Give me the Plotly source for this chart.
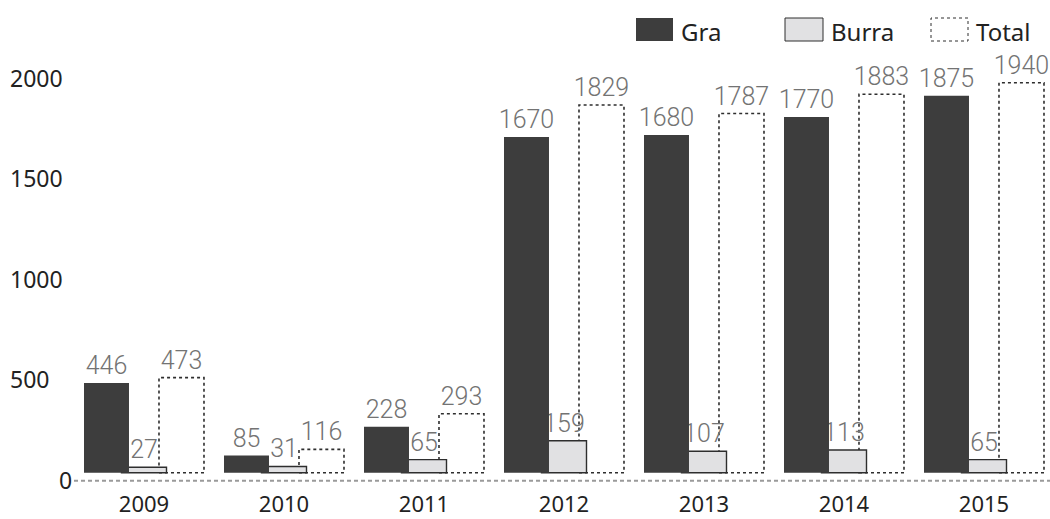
import plotly.graph_objects as go

# Yearly counts
years = ["2009", "2010", "2011", "2012", "2013", "2014", "2015"]
gra = [446, 85, 228, 1670, 1680, 1770, 1875]
burra = [27, 31, 65, 159, 107, 113, 65]
total = [473, 116, 293, 1829, 1787, 1883, 1940]
y_ticks = [0, 500, 1000, 1500, 2000]

# Page geometry (pixels)
W, H = 1050, 519
ML, MR, MT, MB = 74, 0, 40, 30
PW, PH = W - ML - MR, H - MT - MB
PX_PER_UNIT = 0.201          # vertical pixels per count
ZERO_PX = 472.7              # page y of the value 0
Y_MIN = -(H - MB - ZERO_PX) / PX_PER_UNIT
Y_MAX = Y_MIN + PH / PX_PER_UNIT
X_MAX = -0.5 + PW / 140.0

BAR_W = 0.3214
OFF_GRA, OFF_BURRA, OFF_TOTAL = -0.4286, -0.1607, 0.1071
AXIS_FONT = dict(family="Noto Sans", size=23, color="#222222")
XTICK_FONT = dict(family="Noto Sans", size=22, color="#222222")
VALUE_FONT = dict(family="Roboto", size=25, color="#737373", weight=300)

DARK = "#3d3d3d"
LIGHT = "#e1e1e3"
EDGE = "#2e2e2e"


def px_x(px):
    return (px - ML) / PW


def px_y(py):
    return (H - MB - py) / PH


fig = go.Figure()

# drawn back to front: Total, Burra, Gra
fig.add_trace(go.Bar(
    x=years, y=total, name="Total", width=BAR_W, offset=OFF_TOTAL,
    marker=dict(color="rgba(255,255,255,0)", line=dict(width=0)),
    text=[str(v) for v in total], textposition="outside",
    outsidetextfont=VALUE_FONT, constraintext="none", cliponaxis=False,
))
fig.add_trace(go.Bar(
    x=years, y=burra, name="Burra", width=BAR_W, offset=OFF_BURRA,
    marker=dict(color=LIGHT, line=dict(color=EDGE, width=1.4)),
    text=[str(v) for v in burra], textposition="outside",
    outsidetextfont=VALUE_FONT, constraintext="none", cliponaxis=False,
))
fig.add_trace(go.Bar(
    x=years, y=gra, name="Gra", width=BAR_W, offset=OFF_GRA,
    marker=dict(color=DARK, line=dict(width=0)),
    text=[str(v) for v in gra], textposition="outside",
    outsidetextfont=VALUE_FONT, constraintext="none", cliponaxis=False,
))

shapes = []
annotations = []

# dashed outlines of the Total bars (bar outlines cannot be dashed), under the other bars
for i, v in enumerate(total):
    shapes.append(dict(type="rect", xref="x", yref="y", layer="below",
                       x0=i + OFF_TOTAL, x1=i + OFF_TOTAL + BAR_W, y0=0, y1=v,
                       fillcolor="rgba(0,0,0,0)",
                       line=dict(color=EDGE, width=1.6, dash="3px,3px")))

# dotted base line
shapes.append(dict(type="line", xref="paper", yref="y", x0=0, x1=1,
                   y0=-40, y1=-40, line=dict(color="#9a9a9a", width=2, dash="4px,3px"),
                   layer="below"))

# value-axis labels
for v in y_ticks:
    if v == 0:
        annotations.append(dict(xref="paper", yref="y", x=px_x(65), y=v, yshift=-7,
                                text=str(v), showarrow=False, xanchor="center",
                                yanchor="middle", font=AXIS_FONT))
    else:
        annotations.append(dict(xref="paper", yref="y", x=px_x(8), y=v, yshift=-7,
                                text=str(v), showarrow=False, xanchor="left",
                                yanchor="middle", font=AXIS_FONT))

# legend
legend_items = [
    ("Gra", 636, 673, dict(fillcolor=DARK, line=dict(width=0))),
    ("Burra", 785, 823, dict(fillcolor=LIGHT, line=dict(color=EDGE, width=1))),
    ("Total", 931, 968, dict(fillcolor="rgba(0,0,0,0)", line=dict(color=EDGE, width=1, dash="3px,3px"))),
]
for label, x0, x1, style in legend_items:
    shapes.append(dict(type="rect", xref="paper", yref="paper",
                       x0=px_x(x0), x1=px_x(x1), y0=px_y(41), y1=px_y(18), **style))
    annotations.append(dict(xref="paper", yref="paper", x=px_x(x1 + 6), y=px_y(31.5),
                            text=label, showarrow=False, xanchor="left", yanchor="middle",
                            font=dict(family="Noto Sans", size=24, color="#222222")))

fig.update_layout(
    width=W, height=H,
    margin=dict(l=ML, r=MR, t=MT, b=MB, pad=0),
    paper_bgcolor="white", plot_bgcolor="white",
    barmode="overlay", showlegend=False,
    shapes=shapes, annotations=annotations,
    xaxis=dict(type="category", range=[-0.5, X_MAX], showgrid=False, zeroline=False,
               showline=False, ticks="", tickfont=XTICK_FONT, ticklabelstandoff=0,
               automargin=False),
    yaxis=dict(range=[Y_MIN, Y_MAX], showgrid=False, zeroline=False, showline=False,
               showticklabels=False, ticks="", automargin=False),
)

fig.write_html("out.html")
